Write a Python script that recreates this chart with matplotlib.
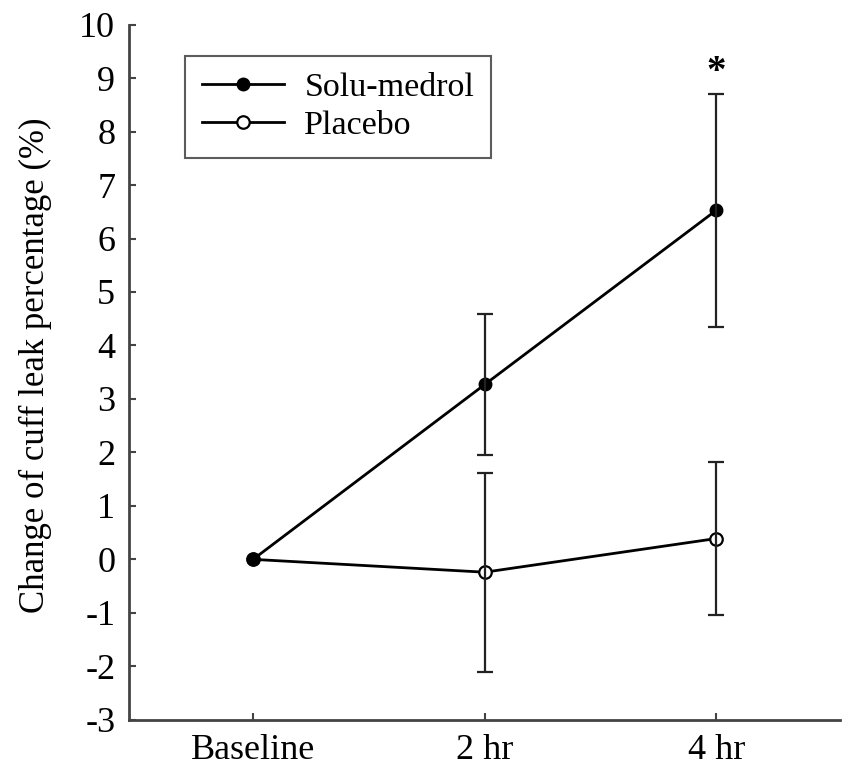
import matplotlib.pyplot as plt
import numpy as np

# data
timepoints = ["Baseline", "2 hr", "4 hr"]
solu_mean = [0.0, 3.27, 6.53]
solu_err = [0.0, 1.31, 2.18]
placebo_mean = [0.0, -0.24, 0.39]
placebo_err = [0.0, 1.86, 1.43]
sig_marks = ["", "", "*"]

plt.rcParams['font.family'] = ['Liberation Serif', 'DejaVu Serif']
plt.rcParams['axes.unicode_minus'] = False

fig = plt.figure(figsize=(8.61, 7.69), dpi=100)
ax = fig.add_axes([0.150, 0.064, 0.826, 0.904])

x = np.arange(len(timepoints))
grey = '#444444'

# lines with markers (solu-medrol on top so baseline dot is filled)
ax.plot(x, placebo_mean, color='black', lw=2, marker='o', ms=9,
        mfc='white', mec='black', mew=1.6, label='Placebo', zorder=3)
ax.plot(x, solu_mean, color='black', lw=2, marker='o', ms=9,
        mfc='black', mec='black', label='Solu-medrol', zorder=3.5)

# error bars (skip baseline, drawn over the markers)
ax.errorbar(x[1:], solu_mean[1:], yerr=solu_err[1:], fmt='none',
            ecolor='#222222', elinewidth=1.6, capsize=6, capthick=1.6, zorder=4)
ax.errorbar(x[1:], placebo_mean[1:], yerr=placebo_err[1:], fmt='none',
            ecolor='#222222', elinewidth=1.6, capsize=6, capthick=1.6, zorder=4)

# significance marker
for xi, m, e, s in zip(x, solu_mean, solu_err, sig_marks):
    if s:
        ax.text(xi, m + e + 0.05, s, ha='center', va='bottom',
                fontsize=28, fontweight='bold')

ax.set_xlim(-0.535, 2.535)
ax.set_ylim(-3, 10)
ax.set_yticks(np.arange(-3, 11, 1))
ax.set_xticks(x)
ax.set_xticklabels(timepoints)
ax.set_ylabel("Change of cuff leak percentage (%)", fontsize=25)
ax.yaxis.set_label_coords(-0.108, 0.51)

for side in ['top', 'right']:
    ax.spines[side].set_visible(False)
for side in ['left', 'bottom']:
    ax.spines[side].set_color(grey)
    ax.spines[side].set_linewidth(2)
ax.tick_params(direction='in', length=5, width=1.5, color=grey,
               labelsize=26, pad=10)

# legend order: Solu-medrol first
handles, labels = ax.get_legend_handles_labels()
leg = ax.legend(handles[::-1], labels[::-1], loc='upper left',
                bbox_to_anchor=(0.055, 0.98), fontsize=24.5,
                frameon=True, fancybox=False, handlelength=2.4,
                borderpad=0.5, labelspacing=0.2, handletextpad=0.6)
leg.get_frame().set_edgecolor('#333333')
leg.get_frame().set_linewidth(1.5)

fig.savefig('out.png', dpi=100)
